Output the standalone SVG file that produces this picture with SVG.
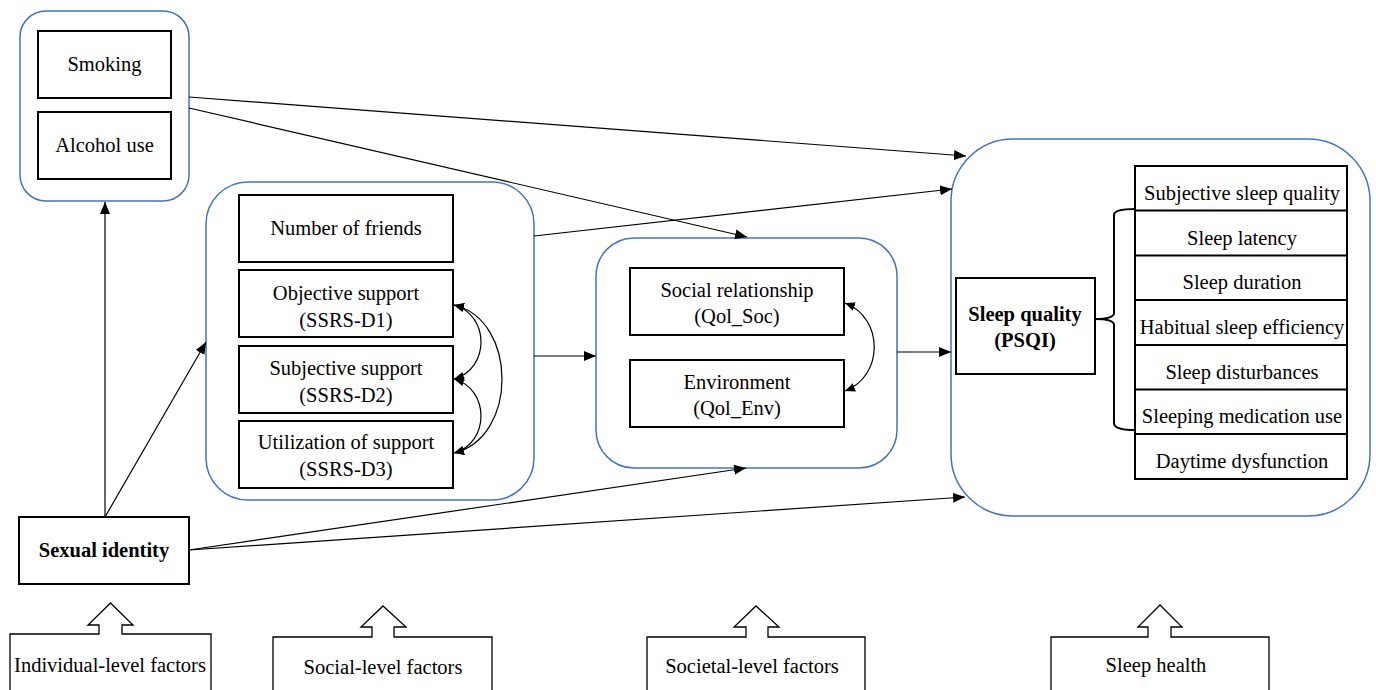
<svg xmlns="http://www.w3.org/2000/svg" width="1376" height="690" viewBox="0 0 1376 690">
<style>
text{font-family:"Liberation Serif","Times New Roman",serif;font-size:20.5px;fill:#000;text-anchor:middle}
.b{font-weight:bold}
.grp{fill:#fff;stroke:#4472C4;stroke-width:1.5}
.box{fill:#fff;stroke:#000;stroke-width:2}
.ln{fill:none;stroke:#000;stroke-width:1.2}
.blk{fill:#fff;stroke:#000;stroke-width:1.3}
</style>
<defs>
<marker id="ah" markerUnits="userSpaceOnUse" markerWidth="13" markerHeight="10" refX="12" refY="5" orient="auto">
<path d="M0,0 L12,5 L0,10 z" fill="#000"/>
</marker>
<marker id="ah2" markerUnits="userSpaceOnUse" markerWidth="11" markerHeight="9" refX="10" refY="4.5" orient="auto-start-reverse">
<path d="M0,0 L10,4.5 L0,9 z" fill="#000"/>
</marker>
</defs>
<rect width="1376" height="690" fill="#fff"/>

<g id="individual-group">
<rect class="grp" x="20" y="11" width="169" height="190" rx="26"/>
<g id="smoking"><rect class="box" x="38" y="31" width="133" height="67"/><text x="104.5" y="71">Smoking</text></g>
<g id="alcohol"><rect class="box" x="38" y="112" width="133" height="67"/><text x="104.5" y="152">Alcohol use</text></g>
</g>

<g id="social-group">
<rect class="grp" x="206" y="182" width="328" height="318" rx="42"/>
<g id="friends"><rect class="box" x="239" y="195" width="214" height="67"/><text x="346" y="235">Number of friends</text></g>
<g id="ssrs-d1"><rect class="box" x="239" y="270" width="214" height="67"/><text x="346" y="300">Objective support</text><text x="346" y="327">(SSRS-D1)</text></g>
<g id="ssrs-d2"><rect class="box" x="239" y="346" width="214" height="67"/><text x="346" y="375">Subjective support</text><text x="346" y="402">(SSRS-D2)</text></g>
<g id="ssrs-d3"><rect class="box" x="239" y="421" width="214" height="67"/><text x="346" y="449">Utilization of support</text><text x="346" y="476">(SSRS-D3)</text></g>
</g>

<g id="societal-group">
<rect class="grp" x="596" y="238" width="301" height="230" rx="38"/>
<g id="qol-soc"><rect class="box" x="630" y="268" width="214" height="67"/><text x="737" y="297">Social relationship</text><text x="737" y="323">(Qol_Soc)</text></g>
<g id="qol-env"><rect class="box" x="630" y="360" width="214" height="67"/><text x="737" y="389">Environment</text><text x="737" y="415">(Qol_Env)</text></g>
</g>

<g id="sleep-group">
<rect class="grp" x="951" y="139" width="419" height="377" rx="62"/>
<g id="psqi"><rect class="box" x="956" y="278" width="139" height="96"/><text class="b" x="1025" y="321">Sleep quality</text><text class="b" x="1025" y="347">(PSQI)</text></g>
<path d="M1135,209 Q1114,209 1114,215 L1114,313 Q1114,319 1095,319 Q1114,319 1114,325 L1114,423 Q1114,430 1135,430" fill="none" stroke="#000" stroke-width="2"/>
<g id="components">
<rect class="box" x="1135" y="166" width="212" height="313"/>
<path d="M1135,210.5 H1347 M1135,255.5 H1347 M1135,300 H1347 M1135,345 H1347 M1135,389.5 H1347 M1135,434 H1347" stroke="#000" stroke-width="2"/>
<text x="1242" y="200">Subjective sleep quality</text>
<text x="1242" y="245">Sleep latency</text>
<text x="1242" y="289">Sleep duration</text>
<text x="1242" y="334">Habitual sleep efficiency</text>
<text x="1242" y="379">Sleep disturbances</text>
<text x="1242" y="423">Sleeping medication use</text>
<text x="1242" y="468">Daytime dysfunction</text>
</g>
</g>

<g id="sexual-identity">
<rect class="box" x="19" y="517" width="170" height="67"/>
<text class="b" x="104" y="557">Sexual identity</text>
</g>

<g id="connectors">
<path class="ln" d="M105,517 V202" marker-end="url(#ah)"/>
<path class="ln" d="M105,517 L206,342" marker-end="url(#ah)"/>
<path class="ln" d="M189,550 L746,468" marker-end="url(#ah)"/>
<path class="ln" d="M189,550 L965,497" marker-end="url(#ah)"/>
<path class="ln" d="M189,97 L966,156" marker-end="url(#ah)"/>
<path class="ln" d="M189,108 L747,237" marker-end="url(#ah)"/>
<path class="ln" d="M534,236 L952,189" marker-end="url(#ah)"/>
<path class="ln" d="M534,356 L596,356" marker-end="url(#ah)"/>
<path class="ln" d="M897,352 L951,352" marker-end="url(#ah)"/>
<path class="ln" d="M454,305 C490,315 490,369 454,379" marker-start="url(#ah2)" marker-end="url(#ah2)"/>
<path class="ln" d="M454,379 C490,389 490,443 454,453" marker-start="url(#ah2)" marker-end="url(#ah2)"/>
<path class="ln" d="M454,305 C518,320 518,438 454,453" marker-start="url(#ah2)" marker-end="url(#ah2)"/>
<path class="ln" d="M845,303 C884,318 884,376 845,391" marker-start="url(#ah2)" marker-end="url(#ah2)"/>
</g>

<g id="level-individual">
<path class="blk" d="M10,692 V634 H99 V625 H88 L110.5,603 L133,625 H122 V634 H211 V692"/>
<text x="110" y="672">Individual-level factors</text>
</g>
<g id="level-social">
<path class="blk" d="M273,692 V637 H372 V627 H361 L383,606 L406,627 H394 V637 H492 V692"/>
<text x="383" y="674">Social-level factors</text>
</g>
<g id="level-societal">
<path class="blk" d="M647,692 V637 H746 V627 H734 L756,606 L779,627 H768 V637 H865 V692"/>
<text x="752" y="673">Societal-level factors</text>
</g>
<g id="level-sleep">
<path class="blk" d="M1051,692 V637 H1148 V627 H1138 L1160,605 L1182,627 H1171 V637 H1269 V692"/>
<text x="1156" y="672">Sleep health</text>
</g>
</svg>
